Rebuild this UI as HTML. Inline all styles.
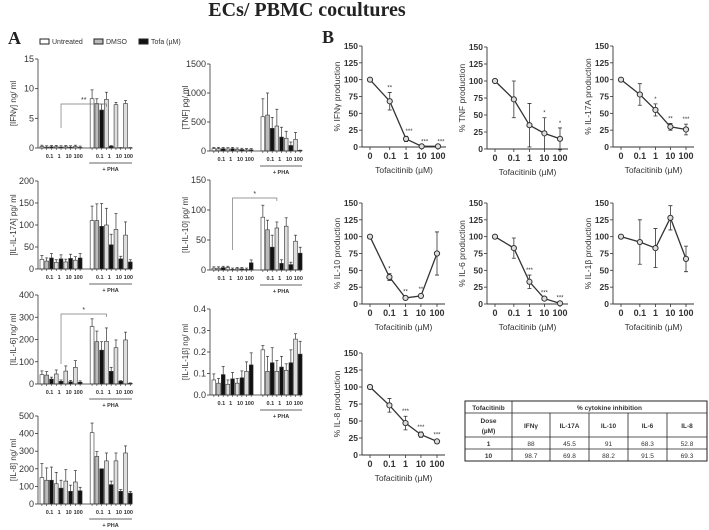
<!DOCTYPE html>
<html><head><meta charset="utf-8">
<style>
body{margin:0;background:#fff;}
svg{display:block;font-family:"Liberation Sans",sans-serif;}
</style></head>
<body>
<svg id="fig" width="709" height="530" viewBox="0 0 709 530">
<text x="307" y="16" text-anchor="middle" font-family="Liberation Serif" font-weight="bold" font-size="20" fill="#222">ECs/ PBMC cocultures</text>
<text x="8" y="44" font-family="Liberation Serif" font-weight="bold" font-size="18" fill="#222">A</text>
<text x="322" y="43" font-family="Liberation Serif" font-weight="bold" font-size="18" fill="#222">B</text>
<g font-size="7" fill="#333">
<rect x="40" y="39" width="9" height="5" fill="#fff" stroke="#222"/>
<text x="52" y="44">Untreated</text>
<rect x="94" y="39" width="9" height="5" fill="#bbb" stroke="#222"/>
<text x="106" y="44">DMSO</text>
<rect x="139" y="39" width="9" height="5" fill="#111" stroke="#222"/>
<text x="151" y="44">Tofa (µM)</text>
</g>
<g id="table" font-size="6.5" fill="#333"></g>
</svg>
<script>
const NS="http://www.w3.org/2000/svg";
const svg=document.getElementById('fig');
function mk(tag,attrs,parent){const e=document.createElementNS(NS,tag);for(const k in attrs)e.setAttribute(k,attrs[k]);(parent||svg).appendChild(e);return e;}

// ---- Panel A data (9 bars per half: U, DMSO, Tofa0.1, U, Tofa1, U, Tofa10, U, Tofa100) ----
const barColors=['#fff','#bbb','#111','#ddd','#111','#ddd','#111','#ddd','#111'];
const doseLabels=['0.1','1','10','100'];
const ifnNoPHA=[0.25,0.15,0.2,0.2,0.15,0.2,0.15,0.25,0.1];
const ifnPHA=[8.3,7.5,6.4,8.2,0.3,7.3,0.05,7.5,0.05];
const ifnErr=[1.5,0.8,1.0,1.2,0.1,0.4,0.02,0.5,0.02];
const tnfNoPHA=[40,40,40,35,40,30,25,20,20];
const tnfPHA=[590,620,390,430,240,220,95,200,10];
const tnfErr=[310,380,190,290,170,120,60,120,5];
const il17NoPHA=[22,18,25,15,23,16,24,20,25];
const il17PHA=[110,110,97,100,55,90,23,77,16];
const il17Err=[33,38,52,38,24,36,6,30,5];
const il10NoPHA=[3,3,4,4,1,2,2,1,12];
const il10PHA=[88,67,38,70,11,73,9,48,28];
const il10Err=[20,16,20,10,6,14,4,10,10];
const il6NoPHA=[42,40,22,45,12,58,10,75,8];
const il6PHA=[258,190,152,192,57,163,12,198,3];
const il6Err=[35,48,38,60,18,35,3,35,2];
const il1bNoPHA=[0.07,0.055,0.095,0.05,0.075,0.055,0.08,0.11,0.14];
const il1bPHA=[0.21,0.11,0.15,0.11,0.13,0.115,0.15,0.26,0.19];
const il1bErr=[0.02,0.07,0.07,0.05,0.05,0.03,0.06,0.025,0.06];
const il8NoPHA=[150,135,135,115,90,130,72,125,75];
const il8PHA=[405,270,200,245,110,245,72,290,62];
const il8Err=[55,28,0,45,20,45,10,40,10];
const il8ErrNo=[80,70,75,65,45,65,35,65,20];

const barPanels=[
 {name:'ifn-gamma',title:'[IFNγ] ng/ ml',x0:38,x1:132,y0:148,yt:59,max:15,ticks:['0','5','10','15'],tickVals:[0,5,10,15],no:ifnNoPHA,pha:ifnPHA,err:ifnErr,sig:'**',sigY:104},
 {name:'tnf',title:'[TNF] pg/ ml',x0:210,x1:302,y0:151,yt:64,max:1500,ticks:['0','500','1000','1500'],tickVals:[0,500,1000,1500],no:tnfNoPHA,pha:tnfPHA,err:tnfErr},
 {name:'il-17a',title:'[IL-IL-17A] pg/ ml',x0:38,x1:132,y0:269,yt:181,max:200,ticks:['0','50','100','150','200'],tickVals:[0,50,100,150,200],no:il17NoPHA,pha:il17PHA,err:il17Err},
 {name:'il-10',title:'[IL-IL-10] pg/ ml',x0:210,x1:302,y0:270,yt:180,max:150,ticks:['0','50','100','150'],tickVals:[0,50,100,150],no:il10NoPHA,pha:il10PHA,err:il10Err,sig:'*',sigY:198},
 {name:'il-6',title:'[IL-IL-6] ng/ ml',x0:38,x1:132,y0:384,yt:295,max:400,ticks:['0','100','200','300','400'],tickVals:[0,100,200,300,400],no:il6NoPHA,pha:il6PHA,err:il6Err,sig:'*',sigY:314},
 {name:'il-1b',title:'[IL-IL-1β] ng/ ml',x0:210,x1:302,y0:395,yt:309,max:0.4,ticks:['0.0','0.1','0.2','0.3','0.4'],tickVals:[0,0.1,0.2,0.3,0.4],no:il1bNoPHA,pha:il1bPHA,err:il1bErr},
 {name:'il-8',title:'[IL-8] ng/ ml',x0:38,x1:132,y0:504,yt:416,max:500,ticks:['0','100','200','300','400','500'],tickVals:[0,100,200,300,400,500],no:il8NoPHA,pha:il8PHA,err:il8Err,errNo:il8ErrNo}
];

barPanels.forEach(p=>{
 const g=mk('g',{});
 
 
 const y=v=>p.y0-(v/p.max)*(p.y0-p.yt);
 const bw=(p.x1-p.x0-8)/18;
 const bx=i=>p.x0+2+(i<9?i:i+1.5)*bw;
 const all=p.no.concat(p.pha);
 all.forEach((v,i)=>{
  const j=i%9;
  const e=i<9?(p.errNo?p.errNo[j]:Math.max(p.no[j]*0.4,p.max*0.015)):p.err[j];
  const xc=bx(i)+bw*0.4;
  const el=mk('line',{x1:xc,x2:xc,y1:y(v),y2:y(v+e),stroke:'#333','stroke-width':0.7},g);
  
  
  const cap=mk('line',{x1:xc-1.5,x2:xc+1.5,y1:y(v+e),y2:y(v+e),stroke:'#333','stroke-width':0.7},g);
  
  
  const r=mk('rect',{x:bx(i),y:y(v),width:bw*0.8,height:Math.max(0.5,p.y0-y(v)),fill:barColors[j],stroke:'#333','stroke-width':0.6},g);
  
  
 });
 mk('line',{x1:p.x0,x2:p.x0,y1:p.yt,y2:p.y0,stroke:'#333','stroke-width':0.8},g);
 mk('line',{x1:p.x0,x2:p.x1,y1:p.y0,y2:p.y0,stroke:'#333','stroke-width':0.8},g);
 p.tickVals.forEach((tv,k)=>{
  mk('line',{x1:p.x0-3,x2:p.x0,y1:y(tv),y2:y(tv),stroke:'#333','stroke-width':0.8},g);
  const t=mk('text',{x:p.x0-4,y:y(tv)+3,'text-anchor':'end','font-size':9,fill:'#333'},g);
  t.textContent=p.ticks[k];
  
  
 });
 for(let i=0;i<18;i++){mk('line',{x1:bx(i)+bw*0.4,x2:bx(i)+bw*0.4,y1:p.y0,y2:p.y0+2,stroke:'#333','stroke-width':0.6},g);}
 [2,4,6,8].forEach((bi,k)=>{[bi,bi+9].forEach(ii=>{
  const t=mk('text',{x:bx(ii),y:p.y0+10,'text-anchor':'middle','font-size':5.5,'font-weight':'bold',fill:'#333'},g);
  t.textContent=doseLabels[k];
  
  
 });});
 const lx0=bx(9)-1,lx1=p.x1;
 mk('line',{x1:lx0,x2:lx1,y1:p.y0+15,y2:p.y0+15,stroke:'#333','stroke-width':0.8},g);
 const ph=mk('text',{x:(lx0+lx1)/2,y:p.y0+23,'text-anchor':'middle','font-size':5.5,'font-weight':'bold',fill:'#333'},g);
 ph.textContent='+ PHA';
 
 
 const tt=mk('text',{transform:`translate(${p.x0-22},${(p.y0+p.yt)/2}) rotate(-90)`,'text-anchor':'middle','font-size':8,fill:'#333'},g);
 tt.textContent=p.title;
 
 
 if(p.sig){
  const sx0=bx(4)+bw*0.4,sx1=bx(12)+bw*0.4;
  mk('path',{d:`M${sx0} ${p.y0-20}V${p.sigY}H${sx1}V${p.sigY+3}`,fill:'none',stroke:'#777','stroke-width':0.7},g);
  const st=mk('text',{x:(sx0+sx1)/2,y:p.sigY-2,'text-anchor':'middle','font-size':7,fill:'#333'},g);
  st.textContent=p.sig;
  
  
 }
});

// ---- Panel B data ----
const doseCats=['0','0.1','1','10','100'];
const ifnPct=[100,68,12,1,1]; const ifnPctErr=[0,13,4,0,0]; const ifnSig=['','**','***','***','***'];
const tnfPct=[100,73,35,23,15]; const tnfPctErr=[0,27,32,23,16]; const tnfSig=['','','','*','*'];
const il17Pct=[100,78,55,30,26]; const il17PctErr=[0,16,9,5,8]; const il17Sig=['','','*','**','***'];
const il10Pct=[100,40,9,12,75]; const il10PctErr=[0,5,2,3,32]; const il10Sig=['','*','**','**',''];
const il6Pct=[100,83,33,8,1]; const il6PctErr=[0,15,10,2,1]; const il6Sig=['','','***','***','***'];
const il1bPct=[100,92,83,128,67]; const il1bPctErr=[0,33,29,18,19]; const il1bSig=['','','','',''];
const il8Pct=[100,73,47,30,20]; const il8PctErr=[0,10,10,4,3]; const il8Sig=['','','***','***','***'];
const yTicksB=[0,25,50,75,100,125,150];
const xFrac=[0,0.29,0.53,0.76,1];

const linePanels=[
 {name:'ifn-gamma',title:'% IFNγ production',ax:362,xa:370,xb:438,y0:147,yt:46,v:ifnPct,e:ifnPctErr,s:ifnSig},
 {name:'tnf',title:'% TNF production',ax:487,xa:495,xb:560,y0:149,yt:47,v:tnfPct,e:tnfPctErr,s:tnfSig},
 {name:'il-17a',title:'% IL-17A production',ax:613,xa:621,xb:686,y0:147,yt:46,v:il17Pct,e:il17PctErr,s:il17Sig},
 {name:'il-10',title:'% IL-10 production',ax:362,xa:370,xb:437,y0:304,yt:203,v:il10Pct,e:il10PctErr,s:il10Sig},
 {name:'il-6',title:'% IL-6 production',ax:487,xa:495,xb:560,y0:304,yt:203,v:il6Pct,e:il6PctErr,s:il6Sig},
 {name:'il-1b',title:'% IL-1β production',ax:613,xa:621,xb:686,y0:304,yt:203,v:il1bPct,e:il1bPctErr,s:il1bSig},
 {name:'il-8',title:'% IL-8 production',ax:362,xa:370,xb:437,y0:455,yt:353,v:il8Pct,e:il8PctErr,s:il8Sig}
];
linePanels.forEach(p=>{
 const g=mk('g',{});
 
 
 const y=v=>p.y0-(v/150)*(p.y0-p.yt);
 const x=i=>p.xa+xFrac[i]*(p.xb-p.xa);
 mk('line',{x1:p.ax,x2:p.ax,y1:p.yt,y2:p.y0,stroke:'#333','stroke-width':0.9},g);
 mk('line',{x1:p.ax,x2:p.xb+8,y1:p.y0,y2:p.y0,stroke:'#333','stroke-width':0.9},g);
 yTicksB.forEach(tv=>{
  mk('line',{x1:p.ax-3,x2:p.ax,y1:y(tv),y2:y(tv),stroke:'#333','stroke-width':0.8},g);
  const t=mk('text',{x:p.ax-4,y:y(tv)+3,'text-anchor':'end','font-size':8.5,'font-weight':'bold',fill:'#333'},g);
  t.textContent=tv;
  
  
 });
 doseCats.forEach((c,i)=>{
  mk('line',{x1:x(i),x2:x(i),y1:p.y0,y2:p.y0+3,stroke:'#333','stroke-width':0.8},g);
  const t=mk('text',{x:x(i),y:p.y0+12,'text-anchor':'middle','font-size':9,'font-weight':'bold',fill:'#333'},g);
  t.textContent=c;
  
  
 });
 const xt=mk('text',{x:(p.xa+p.xb)/2,y:p.y0+26,'text-anchor':'middle','font-size':8.5,fill:'#333'},g);
 xt.textContent='Tofacitinib (µM)';
 
 
 const yt=mk('text',{transform:`translate(${p.ax-22},${(p.y0+p.yt)/2}) rotate(-90)`,'text-anchor':'middle','font-size':8.5,fill:'#333'},g);
 yt.textContent=p.title;
 
 
 const pts=p.v.map((v,i)=>x(i)+','+y(v)).join(' ');
 const pl=mk('polyline',{points:pts,fill:'none',stroke:'#333','stroke-width':1.3},g);
 
 
 p.v.forEach((v,i)=>{
  const e=p.e[i];
  if(e>0){
   mk('path',{d:`M${x(i)} ${y(v-e)}V${y(v+e)}M${x(i)-2} ${y(v-e)}h4M${x(i)-2} ${y(v+e)}h4`,stroke:'#333','stroke-width':0.8,fill:'none'},g);
  }
  const c=mk('circle',{cx:x(i),cy:y(v),r:2.6,fill:'#ddd',stroke:'#333','stroke-width':1},g);
  
  
  if(p.s[i]){
   const t=mk('text',{x:x(i)+(i>=2&&p.name==='ifn-gamma'?3:0),y:y(v+e)-3,'text-anchor':'middle','font-size':6,fill:'#333'},g);
   t.textContent=p.s[i];
   
   
  }
 });
});

// ---- Table ----
const tableCols=['IFNγ','IL-17A','IL-10','IL-6','IL-8'];
const tableDoses=['1','10'];
const tableRow1=['88','45.5','91','68.3','52.8'];
const tableRow10=['98.7','69.8','88.2','91.5','69.3'];
const tg=document.getElementById('table');
const cx=[465,512,550,589,628,667,707];
const ry=[401,413,437,449,461];
mk('rect',{x:465,y:401,width:242,height:60,fill:'#fff',stroke:'#222','stroke-width':1},tg);
ry.slice(1,4).forEach(yy=>mk('line',{x1:465,x2:707,y1:yy,y2:yy,stroke:'#222','stroke-width':0.8},tg));
mk('line',{x1:512,x2:512,y1:401,y2:461,stroke:'#222','stroke-width':0.8},tg);
cx.slice(2,6).forEach(xx=>mk('line',{x1:xx,x2:xx,y1:413,y2:461,stroke:'#222','stroke-width':0.8},tg));
function tt(txt,x,y,bold){const t=mk('text',{x:x,y:y,'text-anchor':'middle','font-weight':bold?'bold':'normal'},tg);t.textContent=txt;
 
 }
tt('Tofacitinib',488.5,410,true);
tt('% cytokine inhibition',609.5,410,true);
tt('Dose',488.5,423,true);tt('(µM)',488.5,433,true);
tableCols.forEach((c,i)=>tt(c,(cx[i+1]+cx[i+2])/2,428,true));
tt(tableDoses[0],488.5,446,true);tt(tableDoses[1],488.5,458,true);
tableRow1.forEach((c,i)=>tt(c,(cx[i+1]+cx[i+2])/2,446,false));
tableRow10.forEach((c,i)=>tt(c,(cx[i+1]+cx[i+2])/2,458,false));
</script>
</body></html>
